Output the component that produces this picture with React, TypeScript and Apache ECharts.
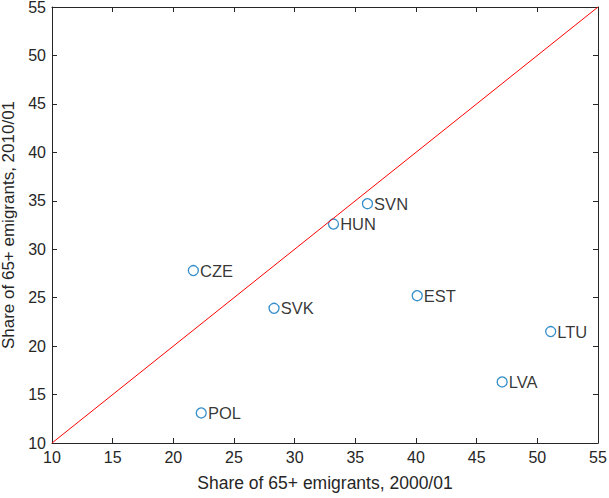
import React, { useEffect, useRef } from "react";
import * as echarts from "echarts";

const countries = ["CZE", "POL", "SVK", "HUN", "SVN", "EST", "LVA", "LTU"];
const share2000 = [21.65, 22.3, 28.3, 33.2, 36.0, 40.1, 47.1, 51.1];
const share2010 = [27.8, 13.1, 23.9, 32.6, 34.7, 25.2, 16.3, 21.5];
const diagonal = [
  [10, 10],
  [55, 55],
];

export default function App() {
  const ref = useRef<HTMLDivElement>(null);
  useEffect(() => {
    if (!ref.current) return;
    const chart = echarts.init(ref.current, null, { renderer: "svg" });
    const font = "Liberation Sans, Arial, Helvetica, sans-serif";
    const axisCommon = {
      type: "value",
      min: 10,
      max: 55,
      interval: 5,
      splitLine: { show: false },
      axisLine: { show: true, onZero: false, lineStyle: { color: "#262626", width: 1 } },
      axisTick: { show: true, inside: true, length: 5, lineStyle: { color: "#262626" } },
    };
    chart.setOption({
      animation: false,
      backgroundColor: "#ffffff",
      textStyle: { fontFamily: font },
      grid: {
        left: 52,
        right: 11,
        top: 7,
        bottom: 55,
        containLabel: false,
        outerBoundsMode: "none",
      },
      xAxis: [
        {
          ...axisCommon,
          position: "bottom",
          name: "Share of 65+ emigrants, 2000/01",
          nameLocation: "middle",
          nameGap: 31,
          nameTextStyle: { color: "#262626", fontSize: 17.5, fontFamily: font },
          axisLabel: { color: "#262626", fontSize: 16, margin: 6, fontFamily: font },
        },
        {
          ...axisCommon,
          position: "top",
          axisLabel: { show: false },
        },
      ],
      yAxis: [
        {
          ...axisCommon,
          position: "left",
          name: "Share of 65+ emigrants, 2010/01",
          nameLocation: "middle",
          nameGap: 29,
          nameTextStyle: { color: "#262626", fontSize: 17, fontFamily: font },
          axisLabel: { color: "#262626", fontSize: 16, margin: 6, fontFamily: font },
        },
        {
          ...axisCommon,
          position: "right",
          axisLabel: { show: false },
        },
      ],
      series: [
        {
          type: "line",
          data: diagonal,
          symbol: "none",
          lineStyle: { color: "#ff0000", width: 1 },
          silent: true,
        },
        {
          type: "scatter",
          data: countries.map((c, i) => ({ name: c, value: [share2000[i], share2010[i]] })),
          symbol: "circle",
          symbolSize: 10,
          itemStyle: { color: "#ffffff", borderColor: "#0072BD", borderWidth: 1.3 },
          label: {
            show: true,
            position: "right",
            distance: 1,
            formatter: (p: any) => p.name,
            color: "#000000",
            fontSize: 16.5,
            fontFamily: font,
          },
        },
      ],
    });
    return () => chart.dispose();
  }, []);
  return (
    <div
      ref={ref}
      style={{ position: "fixed", left: 0, top: 0, width: 609, height: 498, background: "#fff" }}
    />
  );
}
